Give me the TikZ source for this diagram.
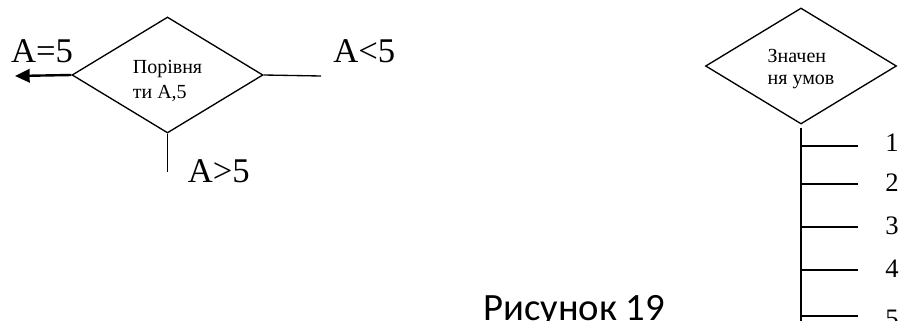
\documentclass[tikz,border=0pt]{standalone}
\usepackage{fontspec}
\setmainfont{Liberation Serif}
\newfontfamily\captionfont{Carlito}
\usetikzlibrary{positioning,arrows.meta,shapes.geometric}

\begin{document}
\begin{tikzpicture}[
    x=0.75pt, y=-0.75pt,
    decision/.style={draw, diamond, line width=1pt, minimum width=143.25pt, minimum height=87pt, inner sep=0pt},
    intext/.style={align=left, inner sep=0pt},
    cond/.style={inner sep=0pt, font=\fontsize{26}{30}\selectfont},
    num/.style={inner sep=0pt, font=\fontsize{20}{24}\selectfont},
    wire/.style={line width=1pt},
    outflow/.style={-{Triangle[length=11pt,width=10pt]}, line width=1.8pt}
  ]
  \useasboundingbox (0,0) rectangle (899,321);

  % comparison with three outcomes
  \node[decision] (cmp) at (167.5,75) {};
  \node[intext, font=\fontsize{15}{19}\selectfont, yshift=-4.5pt] (cmptxt) at (cmp.center) {Порівня\\ти A,5};
  \coordinate (eqend) at (15,76);
  \draw[outflow] (cmp.west) -- (eqend);
  \node[cond, above left=9pt and -1.5pt of cmp.west] (eqlbl) {A=5};
  \coordinate (ltend) at (321,76);
  \draw[wire] (cmp.east) -- (ltend);
  \node[cond, above right=9.75pt and 9pt of ltend] (ltlbl) {A<5};
  \draw[wire] (cmp.south) -- ++(0,38) coordinate (gtend);
  \node[cond, right=15pt of gtend] (gtlbl) {A>5};

  % multiple choice
  \node[decision] (val) at (801,66) {};
  \node[intext, font=\fontsize{15}{16.5}\selectfont, yshift=-2pt] (valtxt) at (val.center) {Значен\\ня умов};
  \path (val.south) ++(0,197) coordinate (trunkend);
  \draw[line width=1.5pt] (val.south) ++(0,3) coordinate (trunktop) -- (trunkend);
  \foreach \y/\n/\s in {146/1/2.5,184/2/1,227/3/1,270/4/1.25,316/5/-2} {
    \coordinate (b\n) at (801,\y);
    \draw[wire] (b\n) -- ++(57,0) coordinate (e\n);
    \node[num, right=20.25pt of e\n, yshift=\s pt] (n\n) {\n};
  }

  \node[anchor=base west, inner sep=0pt, font=\captionfont\fontsize{29}{34}\selectfont] (cap) at (483,320) {Рисунок 19};
\end{tikzpicture}
\end{document}
